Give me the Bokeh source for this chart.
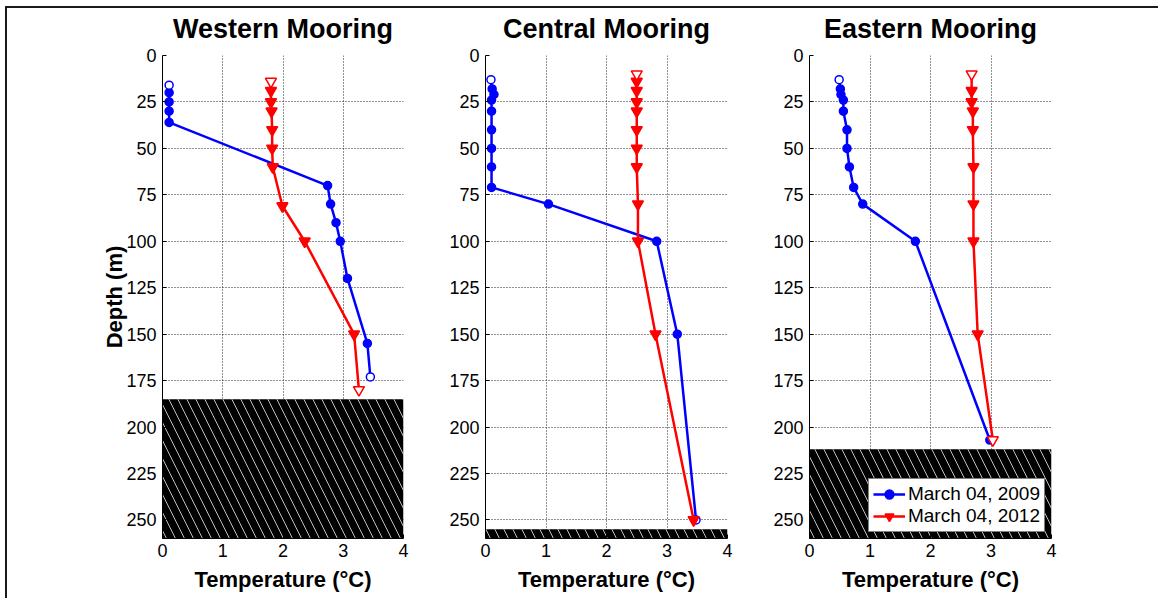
from bokeh.plotting import figure
from bokeh.layouts import row
from bokeh.models import Range1d, FixedTicker, Legend, LegendItem
from bokeh.embed import file_html
from bokeh.resources import INLINE

# ---- data: depth (m) and temperature (deg C) at each instrument ----
moorings = ["Western Mooring", "Central Mooring", "Eastern Mooring"]

west_depth_2009 = [16, 20, 25, 30, 36, 70, 80, 90, 100, 120, 155, 173]
west_temp_2009 = [0.11, 0.11, 0.11, 0.11, 0.11, 2.74, 2.79, 2.88, 2.95, 3.07, 3.40, 3.45]
west_depth_2012 = [14, 19, 25, 30, 40, 50, 60, 81, 100, 150, 180]
west_temp_2012 = [1.80, 1.80, 1.80, 1.81, 1.82, 1.82, 1.83, 1.99, 2.36, 3.18, 3.26]

central_depth_2009 = [13, 18, 21, 24, 30, 40, 50, 60, 71, 80, 100, 150, 250]
central_temp_2009 = [0.09, 0.11, 0.14, 0.10, 0.10, 0.10, 0.10, 0.10, 0.10, 1.04, 2.83, 3.17, 3.48]
central_depth_2012 = [10, 14, 19, 25, 30, 40, 50, 60, 80, 100, 150, 250]
central_temp_2012 = [2.50, 2.50, 2.50, 2.50, 2.50, 2.50, 2.50, 2.50, 2.52, 2.52, 2.81, 3.44]

east_depth_2009 = [13, 18, 21, 24, 30, 40, 50, 60, 71, 80, 100, 207]
east_temp_2009 = [0.49, 0.51, 0.52, 0.56, 0.56, 0.62, 0.62, 0.66, 0.73, 0.88, 1.75, 2.98]
east_depth_2012 = [10, 19, 25, 30, 40, 60, 80, 100, 150, 207]
east_temp_2012 = [2.68, 2.68, 2.68, 2.70, 2.70, 2.71, 2.71, 2.71, 2.78, 3.03]

# bottom depth (m) at each mooring
seafloor_depth = [185, 255, 212]

series_labels = ["March 04, 2009", "March 04, 2012"]
x_ticks = [0, 1, 2, 3, 4]
y_ticks = [0, 25, 50, 75, 100, 125, 150, 175, 200, 225, 250]
X_MAX = 4
Y_MAX = 260

FONT = "Liberation Sans"
BLUE = "#0000ff"
RED = "#ff0000"
FRAME = "#1a1a1a"


def draw_profile(p, temps, depths, color, marker, size, open_last):
    line = p.line(temps, depths, line_color=color, line_width=2.5)
    n = len(depths)
    is_open = [i == 0 or (open_last and i == n - 1) for i in range(n)]
    filled_t = [t for t, o in zip(temps, is_open) if not o]
    filled_d = [d for d, o in zip(depths, is_open) if not o]
    open_t = [t for t, o in zip(temps, is_open) if o]
    open_d = [d for d, o in zip(depths, is_open) if o]
    dots = p.scatter(filled_t, filled_d, marker=marker, size=size,
                     fill_color=color, line_color=color, line_width=1.5)
    p.scatter(open_t, open_d, marker=marker, size=size,
              fill_color="white", line_color=color, line_width=1.5)
    return line, dots


def make_panel(title, d09, t09, d12, t12, floor, width, left, right,
               open09, open12, ylabel, legend):
    p = figure(width=width, height=598,
               x_range=Range1d(0, X_MAX), y_range=Range1d(Y_MAX, 0),
               output_backend="svg", toolbar_location=None,
               min_border_left=left, min_border_right=right,
               min_border_top=55, min_border_bottom=60,
               background_fill_color="white", border_fill_color=None)
    p.outline_line_color = None

    p.title.text = title
    p.title.align = "center"
    p.title.text_font = FONT
    p.title.text_font_size = "27px"
    p.title.text_font_style = "bold"
    p.title.text_color = "black"
    p.title.standoff = 23

    p.xaxis.ticker = FixedTicker(ticks=x_ticks)
    p.yaxis.ticker = FixedTicker(ticks=y_ticks)
    for ax in (p.xaxis[0], p.yaxis[0]):
        ax.major_label_text_font = FONT
        ax.major_label_text_font_size = "18px"
        ax.major_label_text_color = "black"
        ax.axis_line_color = "black"
        ax.major_tick_line_color = "black"
        ax.major_tick_in = 4
        ax.major_tick_out = 0
        ax.minor_tick_line_color = None
        ax.axis_label_text_font = FONT
        ax.axis_label_text_font_size = "22px"
        ax.axis_label_text_font_style = "bold"
        ax.axis_label_text_color = "black"
    p.xaxis.axis_label = "Temperature (\u00b0C)"
    p.xaxis.major_label_standoff = 5
    p.xaxis.axis_label_standoff = 7
    p.yaxis.major_label_standoff = 6
    if ylabel:
        p.yaxis.axis_label = "Depth (m)"
        p.yaxis.axis_label_standoff = -4

    for g in (p.xgrid[0], p.ygrid[0]):
        g.grid_line_color = "#222222"
        g.grid_line_dash = "1 2"
        g.grid_line_width = 1
    p.xgrid.ticker = FixedTicker(ticks=x_ticks)
    p.ygrid.ticker = FixedTicker(ticks=y_ticks)

    # seafloor
    p.quad(left=[0], right=[X_MAX], top=[floor], bottom=[Y_MAX],
           fill_color="black", line_color=None,
           hatch_pattern="\\", hatch_color="white", hatch_alpha=0.75,
           hatch_scale=18, hatch_weight=1)

    l09, s09 = draw_profile(p, t09, d09, BLUE, "circle", 8, open09)
    l12, s12 = draw_profile(p, t12, d12, RED, "inverted_triangle", 11, open12)

    if legend:
        leg = Legend(items=[LegendItem(label=series_labels[0], renderers=[l09, s09]),
                            LegendItem(label=series_labels[1], renderers=[l12, s12])],
                     location="bottom_right")
        leg.margin = 6
        leg.padding = 4
        leg.spacing = 0
        leg.label_standoff = 3
        leg.glyph_width = 32
        leg.glyph_height = 22
        leg.label_height = 22
        leg.label_text_font = FONT
        leg.label_text_font_size = "19px"
        leg.label_text_color = "black"
        leg.border_line_color = "black"
        leg.border_line_width = 1
        leg.background_fill_color = "white"
        leg.background_fill_alpha = 1
        p.add_layout(leg)
    return p


p1 = make_panel(moorings[0], west_depth_2009, west_temp_2009,
                west_depth_2012, west_temp_2012, seafloor_depth[0],
                423, 162, 20, True, True, True, False)
p2 = make_panel(moorings[1], central_depth_2009, central_temp_2009,
                central_depth_2012, central_temp_2012, seafloor_depth[1],
                324, 62, 20, True, False, False, False)
p3 = make_panel(moorings[2], east_depth_2009, east_temp_2009,
                east_depth_2012, east_temp_2012, seafloor_depth[2],
                411, 62, 107, False, True, False, True)

# page frame: rule along the top and down the left side, behind the panels
frame_bg = (f"linear-gradient({FRAME},{FRAME}) 5px 6px / 100% 2px no-repeat, "
            f"linear-gradient({FRAME},{FRAME}) 5px 6px / 2px 100% no-repeat, #ffffff")
page = row(p1, p2, p3, styles={"background": frame_bg})

open("out.html", "w").write(file_html(page, INLINE, title="Mooring temperature profiles"))
